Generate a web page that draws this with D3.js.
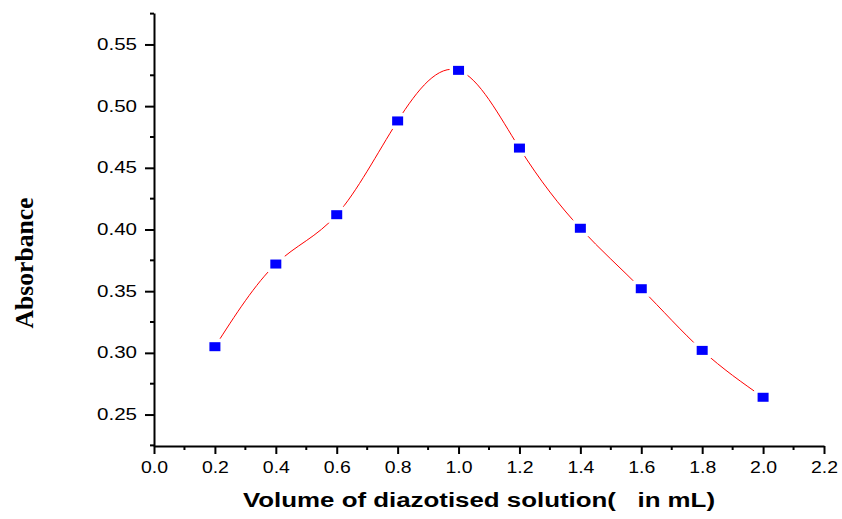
<!DOCTYPE html>
<html>
<head>
<meta charset="utf-8">
<script src="https://cdn.jsdelivr.net/npm/d3@7"></script>
<style>
  body { margin: 0; background: #fff; }
  svg { display: block; }
</style>
</head>
<body>
<div id="chart"></div>
<script>
// volume (mL) vs absorbance
const volumes = [0.2, 0.4, 0.6, 0.8, 1.0, 1.2, 1.4, 1.6, 1.8, 2.0];
const absorbance = [0.305, 0.372, 0.412, 0.488, 0.529, 0.466, 0.401, 0.352, 0.302, 0.264];
const xTicks = [0.0, 0.2, 0.4, 0.6, 0.8, 1.0, 1.2, 1.4, 1.6, 1.8, 2.0, 2.2];
const yTicks = [0.25, 0.30, 0.35, 0.40, 0.45, 0.50, 0.55];

const W = 842, H = 519;
const margin = { top: 13, right: 18, bottom: 73, left: 154 };
const width = W - margin.left - margin.right,
      height = H - margin.top - margin.bottom;

const svg = d3.select('#chart').append('svg')
    .attr('width', W)
    .attr('height', H);
const g = svg.append('g').attr('transform', `translate(${margin.left},${margin.top})`);

const x = d3.scaleLinear().domain([0, 2.2]).range([0, width]);
const y = d3.scaleLinear().domain([0.2245, 0.5755]).range([height, 0]);

const data = volumes.map((v, i) => ({ v: v, a: absorbance[i] }));

// minor ticks sit halfway between the major ones
const xMinor = d3.range(0.1, 2.2, 0.2);
const yMinor = d3.range(0.225, 0.576, 0.05);

// X axis
const gx = g.append('g').attr('transform', `translate(0,${height})`);
gx.call(d3.axisBottom(x).tickValues(xTicks).tickFormat(d3.format('.1f')).tickSize(8).tickPadding(8).tickSizeOuter(0));
gx.selectAll('.minor').data(xMinor).enter().append('line')
    .attr('x1', d => x(d)).attr('x2', d => x(d))
    .attr('y1', 0).attr('y2', 4)
    .attr('stroke', '#000').attr('stroke-width', 2);

// Y axis
const gy = g.append('g');
gy.call(d3.axisLeft(y).tickValues(yTicks).tickFormat(d3.format('.2f')).tickSize(9).tickPadding(8).tickSizeOuter(0));
gy.selectAll('.minor').data(yMinor).enter().append('line')
    .attr('x1', 0).attr('x2', -4)
    .attr('y1', d => y(d)).attr('y2', d => y(d))
    .attr('stroke', '#000').attr('stroke-width', 2);

g.selectAll('.domain').attr('stroke', '#000').attr('stroke-width', 2);
g.selectAll('.tick line').attr('stroke', '#000').attr('stroke-width', 2);
g.selectAll('.tick text')
    .attr('font-family', 'Liberation Sans, Arial, sans-serif')
    .attr('font-size', 16)
    .attr('fill', '#000');
gx.selectAll('.tick text').attr('textLength', 27).attr('lengthAdjust', 'spacingAndGlyphs');
gy.selectAll('.tick text').attr('textLength', 40).attr('lengthAdjust', 'spacingAndGlyphs');

// fitted curve
const line = d3.line()
    .x(d => x(d.v))
    .y(d => y(d.a))
    .curve(d3.curveNatural);
g.append('path')
    .datum(data)
    .attr('d', line)
    .attr('fill', 'none')
    .attr('stroke', '#ff0000')
    .attr('stroke-width', 1);

// markers with a small white gap round them
const pts = g.selectAll('.pt').data(data).enter().append('g')
    .attr('transform', d => `translate(${x(d.v)},${y(d.a)})`);
pts.append('rect')
    .attr('x', -9).attr('y', -8).attr('width', 18).attr('height', 16)
    .attr('fill', '#fff');
pts.append('rect')
    .attr('x', -5.5).attr('y', -4.5).attr('width', 11).attr('height', 9)
    .attr('fill', '#0000ff');

// axis titles
svg.append('text')
    .attr('x', 243).attr('y', 507)
    .attr('font-family', 'Liberation Sans, Arial, sans-serif')
    .attr('font-weight', 'bold')
    .attr('font-size', 20)
    .attr('textLength', 472)
    .attr('lengthAdjust', 'spacingAndGlyphs')
    .attr('xml:space', 'preserve')
    .style('white-space', 'pre')
    .text('Volume of diazotised solution(   in mL)');

svg.append('text')
    .attr('transform', 'translate(33,263) rotate(-90)')
    .attr('text-anchor', 'middle')
    .attr('font-family', 'Liberation Serif, Times New Roman, serif')
    .attr('font-weight', 'bold')
    .attr('font-size', 25)
    .attr('textLength', 131)
    .attr('lengthAdjust', 'spacingAndGlyphs')
    .text('Absorbance');
</script>
</body>
</html>
